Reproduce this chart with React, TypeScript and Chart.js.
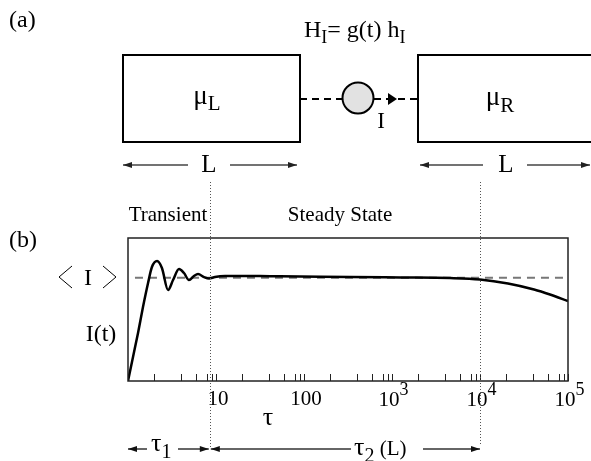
import React, { useEffect, useRef } from "react";
import { Chart, registerables } from "chart.js";

Chart.register(...registerables);

// ---- data ----
const tau = [1, 1.14, 1.3, 1.48, 1.69, 1.87, 2.14, 2.43, 2.85, 3.25, 3.8, 4.33, 4.93, 5.62, 6.25, 7.31, 8.33, 9.74, 12.7, 18.7, 41, 90, 333, 1233, 4560, 10000, 20800, 41100, 62400, 100000];
const current = [0, 0.168, 0.336, 0.517, 0.685, 0.797, 0.839, 0.79, 0.636, 0.706, 0.783, 0.755, 0.706, 0.734, 0.748, 0.727, 0.717, 0.727, 0.734, 0.735, 0.733, 0.731, 0.728, 0.724, 0.72, 0.71, 0.682, 0.64, 0.605, 0.559];
const meanTau = [1.2, 100000];
const meanCurrent = [0.722, 0.722];
const xTickValues = [10, 100, 1000, 10000, 100000];
const xTickBase = ["10", "100", "10", "10", "10"];
const xTickExp = ["", "", "3", "4", "5"];
const minorMultipliers = [2, 4, 6, 8, 9, 10];
const tau1 = 8.5;
const tau2 = 10000;

const serif = '"Liberation Serif", "Times New Roman", serif';

type Run = { t: string; s: number; dy?: number };
function runs(ctx: CanvasRenderingContext2D, items: Run[], x: number, y: number, align: "left" | "center") {
  let w = 0;
  for (const it of items) {
    ctx.font = `${it.s}px ${serif}`;
    w += ctx.measureText(it.t).width;
  }
  let cx = align === "center" ? x - w / 2 : x;
  ctx.textAlign = "left";
  ctx.textBaseline = "alphabetic";
  for (const it of items) {
    ctx.font = `${it.s}px ${serif}`;
    ctx.fillText(it.t, cx, y + (it.dy || 0));
    cx += ctx.measureText(it.t).width;
  }
}

function head(ctx: CanvasRenderingContext2D, x: number, y: number, dir: number) {
  ctx.beginPath();
  ctx.moveTo(x, y);
  ctx.lineTo(x - dir * 9, y - 3);
  ctx.lineTo(x - dir * 9, y + 3);
  ctx.closePath();
  ctx.fill();
}

function arrowLine(ctx: CanvasRenderingContext2D, x1: number, x2: number, y: number, headAt1: boolean, headAt2: boolean) {
  ctx.beginPath();
  ctx.moveTo(x1, y);
  ctx.lineTo(x2, y);
  ctx.stroke();
  if (headAt1) head(ctx, x1, y, -1);
  if (headAt2) head(ctx, x2, y, 1);
}

const figurePlugin = {
  id: "figure",
  afterDraw(chart: any) {
    const ctx: CanvasRenderingContext2D = chart.ctx;
    const xs = chart.scales.x;
    const area = chart.chartArea;
    ctx.save();
    ctx.fillStyle = "#000";
    ctx.strokeStyle = "#000";

    // ---------- panel (a) ----------
    runs(ctx, [{ t: "(a)", s: 24 }], 9, 27, "left");
    runs(ctx, [{ t: "H", s: 24 }, { t: "I", s: 18, dy: 6 }, { t: "= g(t) h", s: 24 }, { t: "I", s: 18, dy: 6 }], 304, 37, "left");
    ctx.lineWidth = 2;
    ctx.strokeRect(123, 55, 177, 87);
    ctx.strokeRect(418, 55, 200, 87);
    runs(ctx, [{ t: "μ", s: 27 }, { t: "L", s: 21, dy: 6 }], 207, 104, "center");
    runs(ctx, [{ t: "μ", s: 27 }, { t: "R", s: 21, dy: 7 }], 500, 105, "center");
    // dashed link
    ctx.setLineDash([7, 5]);
    ctx.beginPath();
    ctx.moveTo(300, 99);
    ctx.lineTo(343, 99);
    ctx.moveTo(374, 99);
    ctx.lineTo(418, 99);
    ctx.stroke();
    ctx.setLineDash([]);
    ctx.beginPath();
    ctx.arc(358, 98, 15.5, 0, Math.PI * 2);
    ctx.fillStyle = "#e2e2e2";
    ctx.fill();
    ctx.stroke();
    ctx.fillStyle = "#000";
    ctx.beginPath();
    ctx.moveTo(397, 99);
    ctx.lineTo(388, 93);
    ctx.lineTo(388, 105);
    ctx.closePath();
    ctx.fill();
    runs(ctx, [{ t: "I", s: 23 }], 381, 128, "center");
    // L arrows
    ctx.strokeStyle = "#444";
    ctx.fillStyle = "#222";
    ctx.lineWidth = 1.5;
    arrowLine(ctx, 123, 188, 165, true, false);
    arrowLine(ctx, 230, 297, 165, false, true);
    arrowLine(ctx, 420, 483, 165, true, false);
    arrowLine(ctx, 527, 590, 165, false, true);
    ctx.fillStyle = "#000";
    runs(ctx, [{ t: "L", s: 25 }], 209, 172, "center");
    runs(ctx, [{ t: "L", s: 25 }], 506, 172, "center");

    // ---------- panel (b) ----------
    runs(ctx, [{ t: "(b)", s: 24 }], 9, 247, "left");
    runs(ctx, [{ t: "Transient", s: 21 }], 168, 221, "center");
    runs(ctx, [{ t: "Steady State", s: 21 }], 340, 221, "center");
    runs(ctx, [{ t: "I(t)", s: 24 }], 101, 341, "center");
    runs(ctx, [{ t: "I", s: 24 }], 88, 285, "center");
    ctx.strokeStyle = "#000";
    ctx.lineWidth = 1;
    ctx.beginPath();
    ctx.moveTo(72, 266);
    ctx.lineTo(59, 277);
    ctx.lineTo(72, 288);
    ctx.moveTo(103, 266);
    ctx.lineTo(116, 277);
    ctx.lineTo(103, 288);
    ctx.stroke();

    // plot frame
    ctx.strokeStyle = "#222";
    ctx.lineWidth = 1.5;
    ctx.strokeRect(area.left, area.top, area.right - area.left, area.bottom - area.top);

    // inward ticks
    ctx.lineWidth = 1;
    ctx.beginPath();
    for (let d = 1; d <= 10000; d *= 10) {
      for (const m of minorMultipliers) {
        const v = d * m;
        if (v < xs.min || v > xs.max) continue;
        const px = Math.round(xs.getPixelForValue(v)) + 0.5;
        ctx.moveTo(px, area.bottom);
        ctx.lineTo(px, area.bottom - 7);
      }
    }
    ctx.stroke();

    // tick labels
    ctx.fillStyle = "#000";
    xTickValues.forEach((v, i) => {
      const px = xs.getPixelForValue(v);
      if (xTickExp[i]) {
        ctx.font = `21px ${serif}`;
        const w = ctx.measureText(xTickBase[i]).width;
        const left = px - w / 2 - 3;
        runs(ctx, [{ t: xTickBase[i], s: 21 }, { t: xTickExp[i], s: 18, dy: -11 }], left, 406, "left");
      } else {
        runs(ctx, [{ t: xTickBase[i], s: 21 }], px + 2, 405, "center");
      }
    });
    runs(ctx, [{ t: "τ", s: 26 }], 268, 425, "center");

    // boundary dotted lines
    const p1 = xs.getPixelForValue(tau1);
    const p2 = xs.getPixelForValue(tau2);
    ctx.strokeStyle = "#555";
    ctx.lineWidth = 1;
    ctx.setLineDash([1, 2]);
    ctx.beginPath();
    ctx.moveTo(Math.round(p1) + 0.5, 182);
    ctx.lineTo(Math.round(p1) + 0.5, 447);
    ctx.moveTo(Math.round(p2) + 0.5, 182);
    ctx.lineTo(Math.round(p2) + 0.5, 445);
    ctx.stroke();
    ctx.setLineDash([]);

    // time-scale arrows
    ctx.strokeStyle = "#333";
    ctx.fillStyle = "#111";
    ctx.lineWidth = 1.5;
    arrowLine(ctx, area.left, 147, 449, true, false);
    arrowLine(ctx, 178, p1 - 1, 449, false, true);
    arrowLine(ctx, p1 + 1, 351, 449, true, false);
    arrowLine(ctx, 423, p2, 449, false, true);
    ctx.fillStyle = "#000";
    runs(ctx, [{ t: "τ", s: 26 }, { t: "1", s: 20, dy: 7 }], 151, 451, "left");
    runs(ctx, [{ t: "τ", s: 26 }, { t: "2", s: 20, dy: 7 }, { t: " (L)", s: 21 }], 354, 455, "left");

    ctx.restore();
  },
};

export default function App() {
  const ref = useRef<HTMLCanvasElement | null>(null);
  useEffect(() => {
    if (!ref.current) return;
    const chart = new Chart(ref.current, {
      type: "line",
      data: {
        datasets: [
          {
            data: tau.map((t, i) => ({ x: t, y: current[i] })),
            borderColor: "#000",
            borderWidth: 2.5,
            pointRadius: 0,
            cubicInterpolationMode: "monotone",
            fill: false,
          },
          {
            data: meanTau.map((t, i) => ({ x: t, y: meanCurrent[i] })),
            borderColor: "#777",
            borderWidth: 2,
            borderDash: [8, 6],
            pointRadius: 0,
            fill: false,
          },
        ],
      },
      options: {
        responsive: false,
        animation: false,
        layout: { padding: { left: 128, right: 23, top: 238, bottom: 80 } },
        plugins: { legend: { display: false }, tooltip: { enabled: false } },
        scales: {
          x: { type: "logarithmic", min: 1, max: 100000, display: false },
          y: { type: "linear", min: 0, max: 1, display: false },
        },
      },
      plugins: [figurePlugin],
    });
    return () => chart.destroy();
  }, []);
  return (
    <div style={{ position: "absolute", left: 0, top: 0, width: 591, height: 461, background: "#fff" }}>
      <canvas ref={ref} width={591} height={461} style={{ display: "block" }} />
    </div>
  );
}
